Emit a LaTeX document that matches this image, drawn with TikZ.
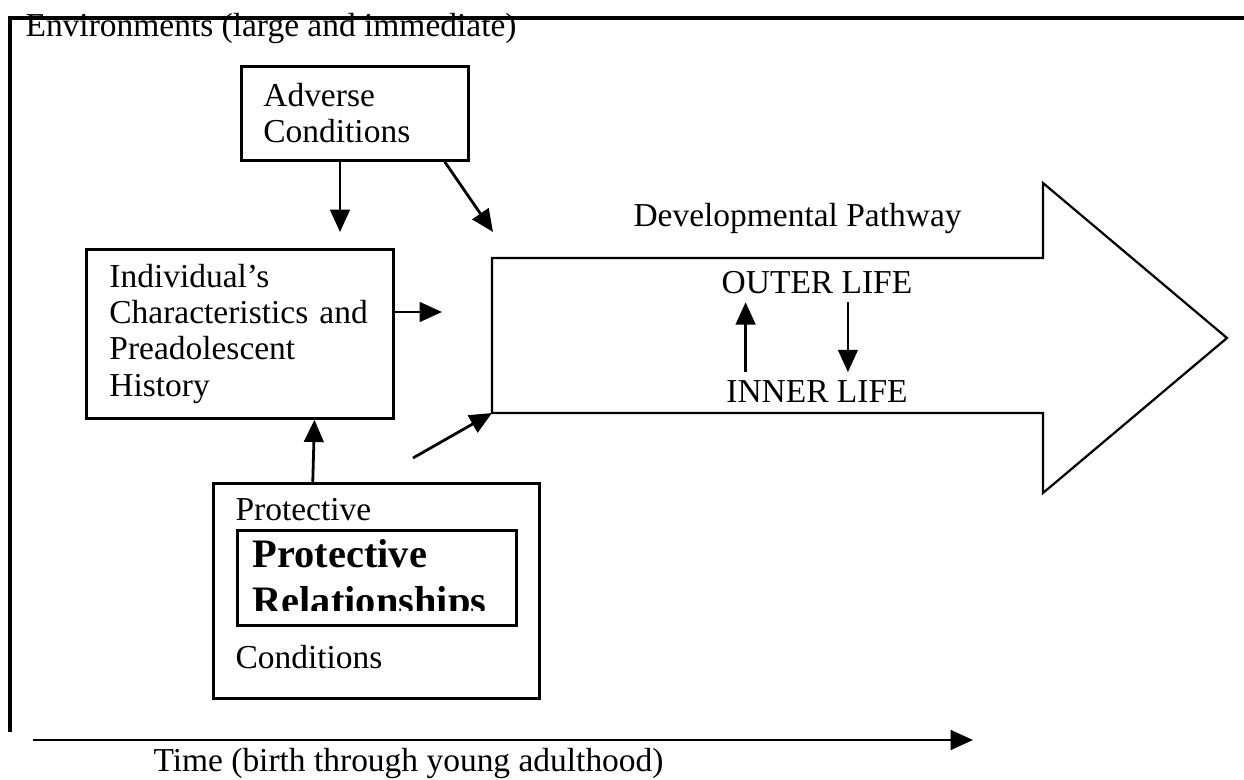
\documentclass[tikz,border=0pt]{standalone}
\usepackage{fontspec}
\setmainfont{Liberation Serif}
\usetikzlibrary{arrows.meta}

\begin{document}
\begin{tikzpicture}[
    x=0.0126cm, y=-0.0126cm,
    font=\fontsize{12}{13}\selectfont,
    box/.style={rectangle, draw, line width=1pt, anchor=north west, align=left, inner ysep=0pt},
    txt/.style={anchor=base west, inner sep=0pt},
    life/.style={anchor=base, inner sep=3pt},
    boldtxt/.style={txt, font=\fontsize{14.5}{16}\selectfont\bfseries},
    arrow/.style={-{Triangle[length=8pt, width=7pt]}, line width=1pt},
    pathway/.style={draw, line width=0.8pt, line join=miter}
]
    \useasboundingbox (0,0) rectangle (1244,780);

    % Environments frame
    \draw[line width=1.1pt] (1244,18) -- (10,18) -- (10,732);
    \node[txt] (env) at (25,37) {Environments (large and immediate)};

    % Boxes
    \node[box, minimum width=2.86cm, minimum height=1.184cm, text width=2.306cm, inner xsep=0.277cm] (adverse) at (240,65) {Adverse\\Conditions};
    \node[box, minimum width=3.868cm, minimum height=2.129cm, text width=3.289cm, inner xsep=0.29cm] (indiv) at (85,248) {Individual's\\Characteristics and\\Preadolescent\\History};
    \node[box, minimum width=4.108cm, minimum height=2.709cm] (prot) at (212,482) {};
    \node[box, minimum width=3.515cm, minimum height=1.197cm] (rel) at (236,529) {};
    \node[txt] (protA) at (235,520) {Protective};
    \node[txt] (cond) at (235,668) {Conditions};
    \begin{scope}
        \clip (236,529) rectangle (515,610);
        \node[boldtxt] (relA) at (252,567) {Protective};
        \node[boldtxt] (relB) at (252,614) {Relationships};
    \end{scope}

    % Developmental pathway
    \draw[pathway] (492,258) -- (1043,258) -- (1043,183) -- (1227,338) -- (1043,493) -- (1043,413) -- (492,413) coordinate (pwsw) -- cycle;
    \node[txt] (pwlabel) at (633,227) {Developmental Pathway};
    \node[life] (outer) at (817,293) {OUTER LIFE};
    \node[life] (inner) at (817,403) {INNER LIFE};

    % Free ends
    \coordinate (advtip) at (340,232);
    \coordinate (pwtip) at (493,232);
    \coordinate (indtip) at (442,312);
    \coordinate (relfrom) at (413,458);
    \coordinate (tstart) at (33,740);
    \coordinate (tend) at (973,740);

    % Arrows
    \draw[arrow] (adverse.south -| advtip) -- (advtip);
    \draw[arrow] ([xshift=-0.315cm]adverse.south east) -- (pwtip);
    \draw[arrow] (indiv.east |- indtip) -- (indtip);
    \draw[arrow] ([xshift=1.27cm]prot.north west) -- ([xshift=0.94cm]indiv.south);
    \draw[arrow] (relfrom) -- (pwsw);
    \draw[arrow] ([xshift=-0.9cm]inner.north) -- ([xshift=-0.9cm]outer.south);
    \draw[arrow] ([xshift=0.39cm]outer.south) -- ([xshift=0.39cm]inner.north);
    \draw[arrow] (tstart) -- (tend);
    \node[txt] (time) at (153,771) {Time (birth through young adulthood)};
\end{tikzpicture}
\end{document}
